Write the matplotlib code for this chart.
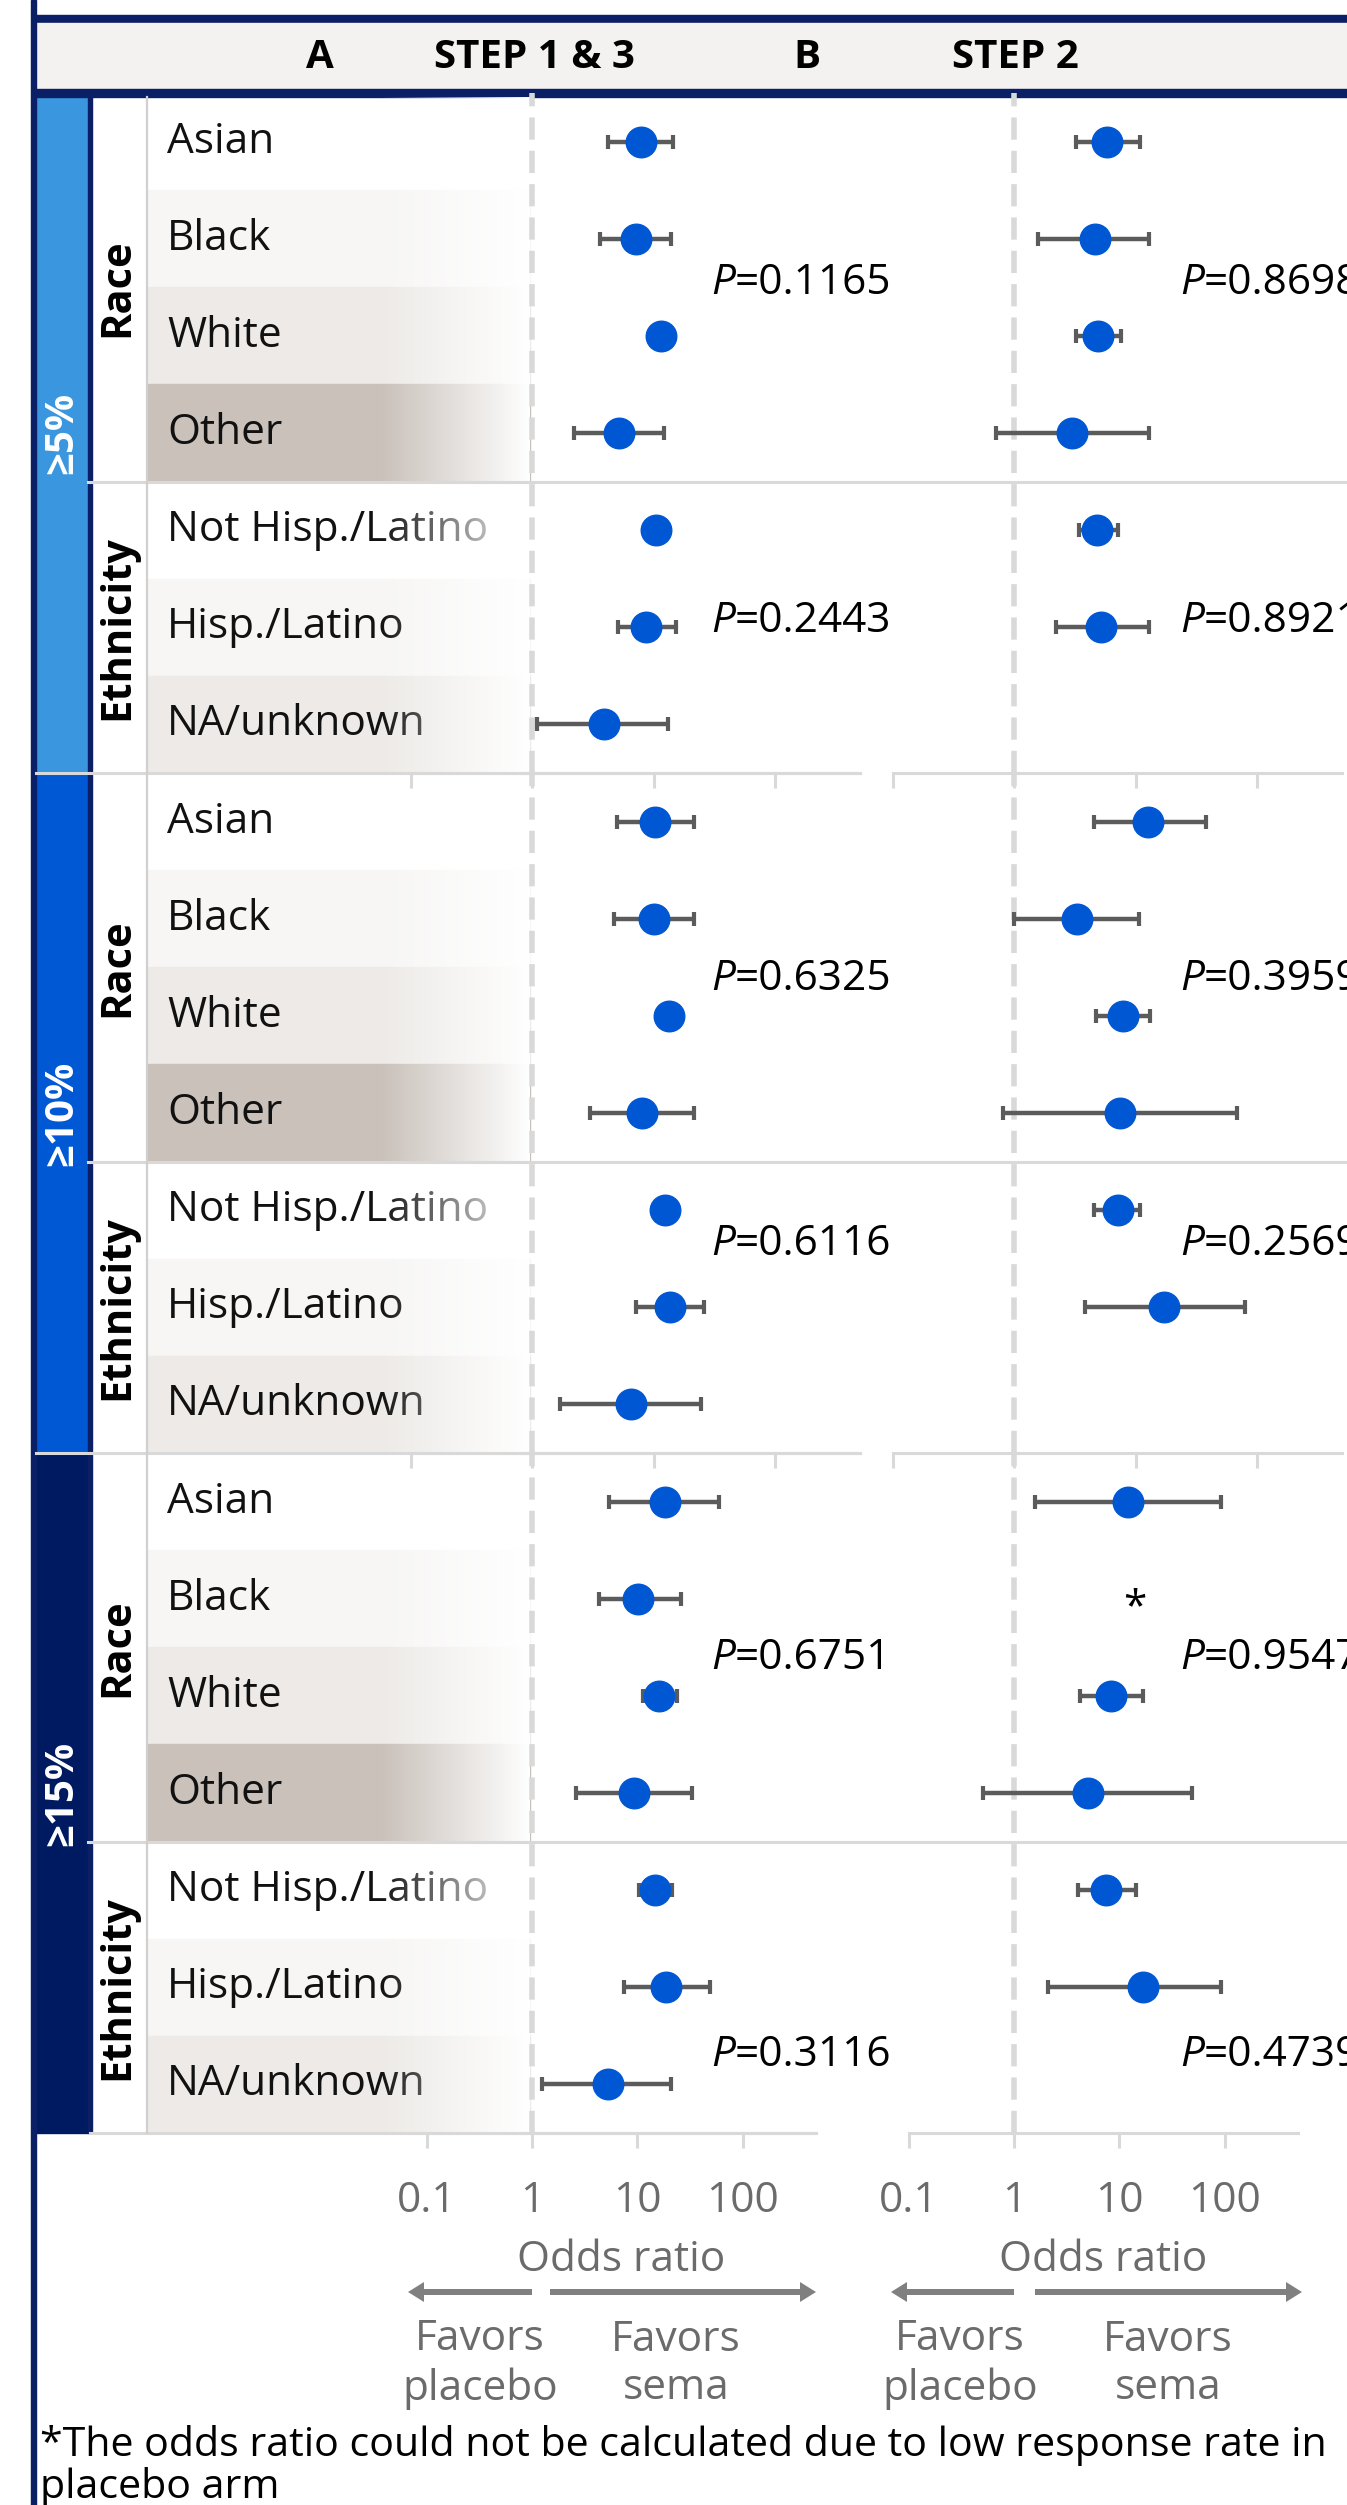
import numpy as np
import matplotlib
matplotlib.use('Agg')
import matplotlib.pyplot as plt
from matplotlib.patches import Rectangle
from matplotlib.ticker import FixedLocator, FixedFormatter, NullLocator

plt.rcParams['font.family'] = ['Open Sans', 'DejaVu Sans']

# ==========================================
# DATA (odds ratios)
# ==========================================
thresholds = ['≥5%', '≥10%', '≥15%']
row_labels = ['Asian', 'Black', 'White', 'Other',
              'Not Hisp./Latino', 'Hisp./Latino', 'NA/unknown']
group_labels = ['Race', 'Ethnicity']
nan = np.nan

# Panel A: STEP 1 & 3
or_a = [[7.8, 7.1, 11.6, 5.2, 10.5, 8.7, 3.9],
        [10.3, 10.1, 13.5, 8.1, 12.3, 13.7, 6.5],
        [18.1, 10.2, 16.2, 9.2, 14.8, 18.5, 5.2]]
lo_a = [[4.2, 3.6, 10.2, 2.2, 9.4, 5.1, 1.1],
        [5.0, 4.7, 11.8, 3.0, 10.9, 7.2, 1.7],
        [5.4, 4.3, 11.4, 2.6, 10.4, 7.4, 1.24]]
hi_a = [[14.5, 14.0, 13.2, 12.2, 11.7, 15.4, 13.2],
        [21.7, 21.4, 15.4, 21.7, 13.8, 26.0, 24.7],
        [60.0, 25.7, 24.0, 32.7, 21.5, 48.5, 21.0]]
p_a = [['0.1165', '0.2443'], ['0.6325', '0.6116'], ['0.6751', '0.3116']]

# Panel B: STEP 2
or_b = [[5.8, 4.6, 4.9, 3.0, 4.8, 5.2, nan],
        [12.7, 3.3, 7.9, 7.5, 7.1, 17.3, nan],
        [12.2, nan, 8.4, 5.0, 7.5, 16.6, nan]]
lo_b = [[3.2, 1.58, 3.2, 0.70, 3.4, 2.2, nan],
        [4.5, 1.0, 4.7, 0.81, 4.5, 3.8, nan],
        [1.58, nan, 4.2, 0.50, 4.0, 2.1, nan]]
hi_b = [[10.9, 13.0, 7.6, 13.0, 7.1, 13.0, nan],
        [38.0, 10.7, 13.2, 69.0, 10.9, 80.0, nan],
        [92.0, nan, 16.9, 49.5, 14.5, 92.0, nan]]
p_b = [['0.8698', '0.8921'], ['0.3959', '0.2569'], ['0.9547', '0.4739']]

# OR not estimable (Black, >=15%, STEP 2)
star_block, star_row, star_or = 2, 1, 14

x_ticks = [0.1, 1, 10, 100]
x_ticklabels = ['0.1', '1', '10', '100']
footnote = ['*The odds ratio could not be calculated due to low response rate in',
            'placebo arm']

# ==========================================
# LAYOUT / STYLE
# ==========================================
W, H = 1347, 2505
NAVY = '#0a1f66'
GRID = '#d9d9d9'
DOT = '#0057d4'
BAR = '#5b5b5b'
GREY_TXT = '#6b6b6b'
strip_colors = ['#3a96de', '#0058d4', '#001a62']
row_bg = ['#ffffff', '#f7f6f5', '#edeae7', '#c9c1ba',
          '#ffffff', '#f7f6f5', '#edeae7']

block_top = [93, 773, 1453]
BLOCK_H = 680
ROW_H = BLOCK_H / 7
XMIN, XMAX = 0.1, 500
# (left pixel of 0.1, pixels per decade) for each block
axes_a = [(411, 121.3), (411, 121.3), (427, 105.2)]
axes_b = [(893, 121.3), (893, 121.3), (909, 105.2)]
p_pos = [(1.46, 4.94), (1.62, 4.35), (1.61, 5.70)]
FS = 30.5

fig = plt.figure(figsize=(W / 100, H / 100), dpi=100)
bg = fig.add_axes([0, 0, 1, 1])
bg.set_xlim(0, W)
bg.set_ylim(H, 0)
bg.axis('off')

# left frame + header
bg.add_patch(Rectangle((31, 0), 5, H, color=NAVY, zorder=6))
bg.add_patch(Rectangle((36, 15), W, 8, color=NAVY, zorder=5))
bg.add_patch(Rectangle((36, 23), W, 66, color='#f3f2f0', zorder=5))
bg.add_patch(Rectangle((36, 89), W, 8, color=NAVY, zorder=5))
for x, s in [(320, 'A'), (534, 'STEP 1 & 3'), (807, 'B'), (1015, 'STEP 2')]:
    bg.text(x, 57, s, fontsize=29, fontweight='bold', ha='center', va='center', zorder=7)

for b in range(3):
    top = block_top[b]
    bg.add_patch(Rectangle((36, top), 52, BLOCK_H, color=strip_colors[b], zorder=1))
    bg.add_patch(Rectangle((88, top), 4, BLOCK_H, color=NAVY, zorder=2))
    bg.text(62, top + BLOCK_H / 2, thresholds[b], rotation=90, color='white',
            fontsize=29, fontweight='bold', ha='center', va='center', zorder=3)
    for r in range(7):
        y0 = top + r * ROW_H
        bg.add_patch(Rectangle((148, y0), 382, ROW_H, color=row_bg[r], zorder=1))
        bg.text(167, y0 + ROW_H / 2, row_labels[r], fontsize=FS, color='#111111',
                ha='left', va='center', zorder=3)
    bg.text(118, top + 2 * ROW_H, group_labels[0], rotation=90, fontsize=30,
            fontweight='bold', ha='center', va='center', zorder=3)
    bg.text(118, top + 5.5 * ROW_H, group_labels[1], rotation=90, fontsize=30,
            fontweight='bold', ha='center', va='center', zorder=3)
    bg.plot([88, W], [top + 4 * ROW_H] * 2, color=GRID, lw=2.2, zorder=11)
    if b < 2:
        bg.plot([36, 860], [top + BLOCK_H] * 2, color=GRID, lw=2.2, zorder=11)
    else:
        bg.plot([90, 816], [top + BLOCK_H] * 2, color=GRID, lw=2.2, zorder=11)

    # P values
    for k in range(2):
        yp = top + (p_pos[b][k] + 0.5) * ROW_H
        for xp, pv in [(711, p_a[b][k]), (1180, p_b[b][k])]:
            t = bg.text(xp, yp, 'P', style='italic', fontsize=FS, ha='left', va='center')
            bg.annotate('=' + pv, xy=(1, 0), xycoords=t, ha='left', va='bottom',
                        fontsize=FS, annotation_clip=False)

bg.plot([147, 147], [97, block_top[2] + BLOCK_H], color='#d0d0d0', lw=1.6, zorder=11)

# white fade over the right end of the label column
ramp = np.ones((1, 256, 4))
ramp[0, :, 3] = np.linspace(0, 1, 256)
bg.imshow(ramp, extent=(380, 530, block_top[2] + BLOCK_H - 1, 97), aspect='auto',
          zorder=10, interpolation='bilinear')
bg.set_xlim(0, W)
bg.set_ylim(H, 0)

# arrows and "Favors" captions
for x1, x2 in [(532, 408), (550, 816), (1014, 891), (1035, 1302)]:
    bg.arrow(x1, 2292, x2 - x1, 0, width=6, head_width=20, head_length=16,
             length_includes_head=True, color='#808080', lw=0)
for x, s in [(480, 'Favors\nplacebo'), (676, 'Favors\nsema'),
             (960, 'Favors\nplacebo'), (1168, 'Favors\nsema')]:
    bg.text(x, 2364, s, fontsize=FS, color=GREY_TXT, ha='center', va='center',
            linespacing=1.2)
bg.text(40, 2445, footnote[0], fontsize=29.6, ha='left', va='center')
bg.text(40, 2487, footnote[1], fontsize=29.6, ha='left', va='center')


# ==========================================
# FOREST PANELS
# ==========================================
def forest(x0, per_dec, b, ors, los, his, last):
    top = block_top[b]
    w = per_dec * np.log10(XMAX / XMIN)
    ax = fig.add_axes([x0 / W, 1 - (top + BLOCK_H) / H, w / W, BLOCK_H / H])
    ax.set_xscale('log')
    ax.set_xlim(XMIN, XMAX)
    ax.set_ylim(6.5, -0.5)
    ax.patch.set_alpha(0)
    for s in ['top', 'right', 'left']:
        ax.spines[s].set_visible(False)
    ax.spines['bottom'].set_color(GRID)
    ax.spines['bottom'].set_linewidth(2.2)
    ax.xaxis.set_major_locator(FixedLocator(x_ticks))
    ax.xaxis.set_major_formatter(FixedFormatter(x_ticklabels))
    ax.xaxis.set_minor_locator(NullLocator())
    ax.set_yticks([])
    ax.tick_params(axis='x', length=10.8, width=2.2, color=GRID, direction='out',
                   labelsize=FS, labelcolor=GREY_TXT, pad=23, labelbottom=last)
    if last:
        ax.set_xlabel('Odds ratio', fontsize=FS, color=GREY_TXT, labelpad=12)
    ax.axvline(1, color=GRID, lw=4, dashes=(4, 2), zorder=1)

    ors, los, his = np.array(ors), np.array(los), np.array(his)
    rows = np.arange(len(ors))
    ok = ~np.isnan(ors)
    ax.errorbar(ors[ok], rows[ok], xerr=[ors[ok] - los[ok], his[ok] - ors[ok]],
                fmt='o', ms=22, mfc=DOT, mec=DOT, ecolor=BAR, elinewidth=3.2,
                capsize=4.7, capthick=3, zorder=3, clip_on=False)
    return ax


for b in range(3):
    forest(*axes_a[b], b, or_a[b], lo_a[b], hi_a[b], b == 2)
    axb = forest(*axes_b[b], b, or_b[b], lo_b[b], hi_b[b], b == 2)
    if b == star_block:
        axb.annotate('*', xy=(star_or, star_row), xytext=(0, -7), textcoords='offset points',
                     fontsize=FS, ha='center', va='center')

fig.savefig('out.png', dpi=100)
